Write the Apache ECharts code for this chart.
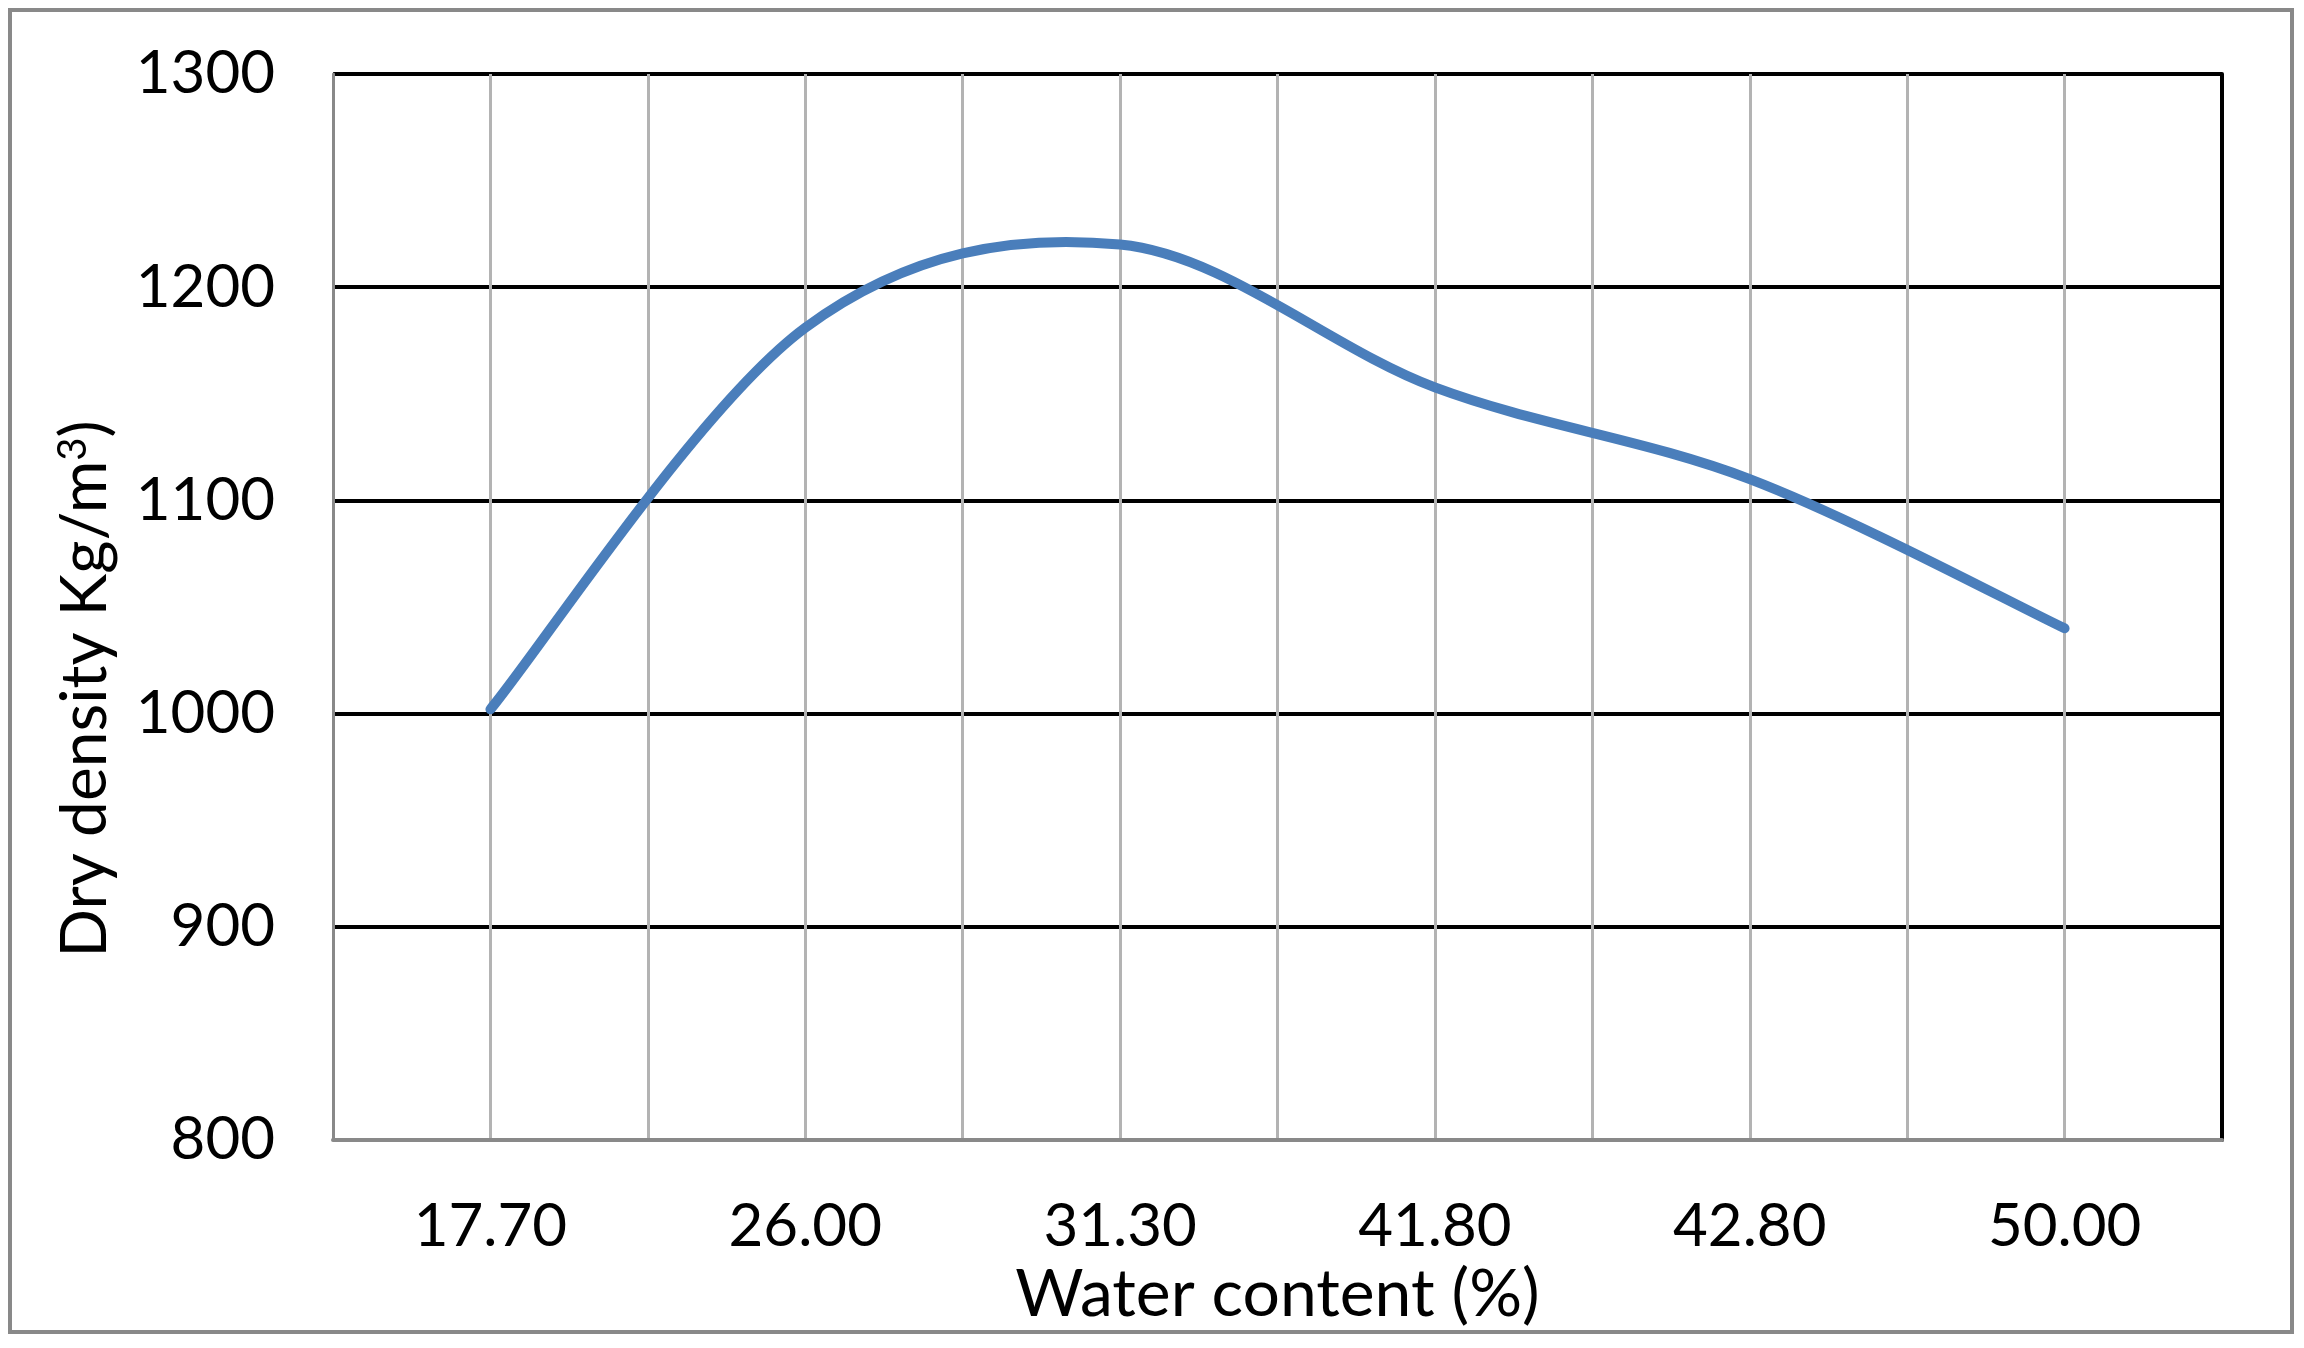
<!DOCTYPE html>
<html>
<head>
<meta charset="utf-8">
<script src="https://cdn.jsdelivr.net/npm/echarts@6/dist/echarts.min.js"></script>
<style>
  html, body { margin: 0; padding: 0; background: #ffffff; }
  #chart { width: 2304px; height: 1348px; }
</style>
</head>
<body>
<div id="chart"></div>
<script>
// Data
const categories = ['17.70', '26.00', '31.30', '41.80', '42.80', '50.00'];
const dryDensity = [1002, 1181, 1220, 1153, 1110, 1040];
const yTicks = { min: 800, max: 1300, interval: 100 };
const xTitle = 'Water content (%)';
const yTitle = 'Dry density Kg/m{sup|3})';

const FONT = 'Lato';
const LINE_COLOR = '#4a7ebb';
const chart = echarts.init(document.getElementById('chart'), null, { renderer: 'canvas' });

// Smoothed line (Catmull-Rom style Bezier, as spreadsheet "smoothed line")
// drawn through the points the axes give for each data value.
function renderSmoothLine(params, api) {
  if (params.dataIndex !== 0) return null;
  const n = params.dataInsideLength;
  const pts = [];
  for (let j = 0; j < n; j++) {
    pts.push(api.coord([api.value(0, j), api.value(1, j)]));
  }
  let d = 'M' + pts[0][0] + ' ' + pts[0][1];
  for (let i = 0; i < n - 1; i++) {
    const p0 = pts[Math.max(i - 1, 0)];
    const p1 = pts[i];
    const p2 = pts[i + 1];
    const p3 = pts[Math.min(i + 2, n - 1)];
    const c1x = p1[0] + (p2[0] - p0[0]) / 6;
    const c1y = p1[1] + (p2[1] - p0[1]) / 6;
    const c2x = p2[0] - (p3[0] - p1[0]) / 6;
    const c2y = p2[1] - (p3[1] - p1[1]) / 6;
    d += ' C' + c1x + ' ' + c1y + ' ' + c2x + ' ' + c2y + ' ' + p2[0] + ' ' + p2[1];
  }
  return {
    type: 'path',
    shape: { pathData: d },
    style: { fill: 'none', stroke: LINE_COLOR, lineWidth: 10, lineCap: 'round', lineJoin: 'round' },
    silent: true
  };
}

chart.setOption({
  animation: false,
  backgroundColor: '#ffffff',
  graphic: [{
    type: 'rect',
    shape: { x: 10, y: 10, width: 2282, height: 1322 },
    style: { fill: 'none', stroke: '#898989', lineWidth: 4 },
    silent: true,
    z: -1
  }],
  grid: { left: 333, right: 82, top: 74, bottom: 208, containLabel: false },
  xAxis: [{
    type: 'category',
    data: categories,
    boundaryGap: true,
    axisLine: { show: true, lineStyle: { color: '#898989', width: 4 } },
    axisTick: { show: false },
    splitLine: { show: false },
    axisLabel: { color: '#000', fontFamily: FONT, fontSize: 60, margin: 57 },
    name: xTitle,
    nameLocation: 'middle',
    nameGap: 118,
    nameTextStyle: { color: '#000', fontFamily: FONT, fontSize: 66 }
  }, {
    type: 'value',
    position: 'top',
    min: 0, max: 12, interval: 1,
    axisLine: { show: false },
    axisTick: { show: false },
    axisLabel: { show: false },
    splitLine: { show: true, lineStyle: { color: '#b3b3b3', width: 3 } }
  }],
  yAxis: [{
    type: 'value',
    min: yTicks.min, max: yTicks.max, interval: yTicks.interval,
    axisLine: { show: true, lineStyle: { color: '#898989', width: 3 } },
    axisTick: { show: false },
    splitLine: { show: true, lineStyle: { color: '#000000', width: 4 } },
    axisLabel: { color: '#000', fontFamily: FONT, fontSize: 60, margin: 58, formatter: (v) => String(v) },
    name: yTitle,
    nameLocation: 'middle',
    nameGap: 216,
    nameRotate: 90,
    nameTextStyle: {
      color: '#000', fontFamily: FONT, fontSize: 64,
      padding: [0, 164, 0, 0],
      rich: {
        sup: { fontFamily: FONT, fontSize: 40, verticalAlign: 'top', color: '#000', padding: [0, 0, 24, 0] }
      }
    }
  }, {
    type: 'value',
    position: 'right',
    min: yTicks.min, max: yTicks.max, interval: yTicks.interval,
    axisLine: { show: true, lineStyle: { color: '#000000', width: 4 } },
    axisTick: { show: false },
    axisLabel: { show: false },
    splitLine: { show: false }
  }],
  series: [{
    type: 'custom',
    xAxisIndex: 0,
    yAxisIndex: 0,
    data: dryDensity.map((v, i) => [i, v]),
    renderItem: renderSmoothLine,
    z: 5
  }]
});
</script>
</body>
</html>
